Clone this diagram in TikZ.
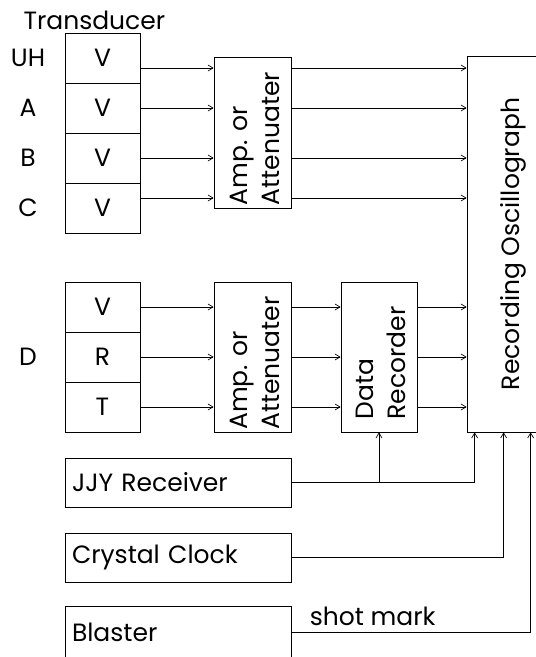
\documentclass[tikz,border=0pt]{standalone}
\usepackage{fontspec}
\setmainfont{Poppins}
\usetikzlibrary{arrows.meta, positioning, calc}

\begin{document}
\begin{tikzpicture}[
			x=1pt, y=-1pt,
			every node/.style={font=\fontsize{25}{32}\selectfont},
			box/.style={draw, line width=0.7pt, inner sep=0pt},
			cell/.style={box, minimum width=75pt, minimum height=50pt},
			tall/.style={box, minimum width=77pt, minimum height=150pt},
			wide/.style={box, minimum height=49pt, text width=212pt, inner xsep=7pt, align=left},
			vtext/.style={rotate=90, align=left},
			sig/.style={line width=0.7pt, -{Straight Barb[length=5pt, width=6pt]}}
			]
			\useasboundingbox (0,0) rectangle (536,657);
			\node[anchor=base west] (title) at (20,29) {Transducer};
			% transducer cells
			\foreach \lab [count=\i] in {UH,A,B,C} {
				\node[cell] (u\i) at (102.5,8+50*\i) {V};
				\node (l\i) at (28,8+50*\i) {\lab};
			}
			\foreach \lab [count=\i] in {V,R,T}
				\node[cell] (d\i) at (102.5,257+50*\i) {\lab};
			\node (ld) at (28,357) {D};
			\node[tall, minimum height=151pt] (amp1) at (252.5,132.5) {};
			\node[vtext] at ([xshift=2pt,yshift=-6pt]amp1.center) {Amp. or\\Attenuater};
			\node[tall] (amp2) at (252.5,357) {};
			\node[vtext] at ([xshift=2pt,yshift=-6pt]amp2.center) {Amp. or\\Attenuater};
			\node[tall, minimum width=76pt] (rec) at (379,357) {};
			\node[vtext] at ([xshift=2pt,yshift=-6pt]rec.center) {Data\\Recorder};
			\node[box, minimum width=92pt, minimum height=376pt] (osc) at (513,244) {};
			\node[rotate=90] at (osc) {Recording Oscillograph};
			\node[wide] (jjy) at (178,482.5) {JJY Receiver};
			\node[wide] (clock) at (178,557.5) {Crystal Clock};
			\node[wide, minimum height=52pt] (blaster) at (178,632) {Blaster};
			% signal lines
			\foreach \i/\s in {1/-10,2/0,3/0,4/10} {
				\draw[sig] ([yshift=\s pt]u\i.east) -- ([yshift=\s pt]u\i.east -| amp1.west);
				\draw[sig] ([yshift=\s pt]u\i.east -| amp1.east) -- ([yshift=\s pt]u\i.east -| osc.west);
			}
			\foreach \i in {1,2,3} {
				\draw[sig] (d\i.east) -- (d\i.east -| amp2.west);
				\draw[sig] (d\i.east -| amp2.east) -- (d\i.east -| rec.west);
				\draw[sig] (d\i.east -| rec.east) -- (d\i.east -| osc.west);
			}
			\draw[sig] (jjy.east) -| ([xshift=8pt]osc.south west);
			\draw[sig] (jjy.east -| rec.south) -- (rec.south);
			\draw[sig] (clock.east) -| ([xshift=37pt]osc.south west);
			\draw[sig] (blaster.east) -| node[pos=0.17, above, inner sep=6pt] {shot mark} ([xshift=64pt]osc.south west);
		\end{tikzpicture}
\end{document}
